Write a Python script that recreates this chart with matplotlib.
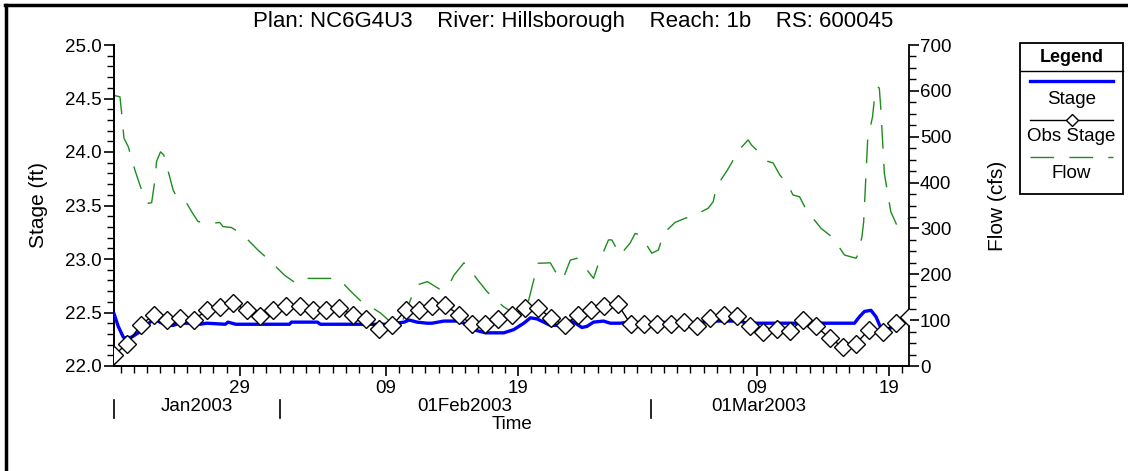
import datetime as dt

import matplotlib
matplotlib.use('Agg')
import matplotlib.pyplot as plt
import matplotlib.dates as mdates
import matplotlib.transforms as mtransforms
from matplotlib.lines import Line2D
from matplotlib.ticker import MultipleLocator, FuncFormatter

plt.rcParams['font.family'] = ['Liberation Sans', 'DejaVu Sans']

start = dt.datetime(2003, 1, 19, 12)

# observed stage, one reading per day from the start time
obs_stage = [22.10, 22.21, 22.38, 22.48, 22.43, 22.45, 22.43, 22.52, 22.55, 22.59,
             22.52, 22.47, 22.52, 22.56, 22.56, 22.52, 22.52, 22.54, 22.48, 22.44,
             22.35, 22.38, 22.52, 22.52, 22.56, 22.57, 22.48, 22.39, 22.39, 22.44,
             22.48, 22.54, 22.54, 22.45, 22.38, 22.48, 22.52, 22.56, 22.58, 22.39,
             22.39, 22.39, 22.39, 22.41, 22.37, 22.45, 22.48, 22.47, 22.37, 22.32,
             22.35, 22.33, 22.43, 22.37, 22.26, 22.18, 22.21, 22.34, 22.32, 22.40,
             22.46]

# computed stage (days after start, ft)
stage_day = [0.00, 0.32, 0.70, 0.96, 1.33, 1.83, 2.33, 2.71, 3.08, 3.46, 3.97, 4.46,
             4.97, 5.47, 5.94, 6.3, 6.5, 7.0, 8.4, 8.6, 9.2, 13.24, 13.39, 15.35,
             15.58, 20.62, 21.90, 22.27, 22.87, 23.63, 24.0, 24.91, 25.88, 26.41,
             26.92, 27.41, 28.04, 29.42, 30.17, 30.93, 31.43, 31.93, 32.43, 32.93,
             33.43, 33.94, 34.31, 34.69, 35.31, 35.69, 36.19, 36.94, 37.45, 38.20,
             38.83, 39.45, 40.71, 41.21, 42.46, 43.47, 44.47, 45.22, 47.23, 47.73,
             55.51, 55.88, 56.26, 56.64, 57.13, 57.51, 57.89, 58.14, 58.52, 59.01,
             59.39, 59.82, 60.0]
stage_ft = [22.49, 22.37, 22.27, 22.26, 22.27, 22.31, 22.35, 22.41, 22.44, 22.41, 22.38,
            22.38, 22.40, 22.40, 22.40, 22.41, 22.39, 22.40, 22.39, 22.41, 22.39, 22.39,
            22.41, 22.41, 22.39, 22.39, 22.41, 22.43, 22.41, 22.40, 22.40, 22.42, 22.42,
            22.40, 22.35, 22.33, 22.31, 22.31, 22.34, 22.40, 22.45, 22.44, 22.41, 22.38,
            22.38, 22.40, 22.42, 22.41, 22.36, 22.37, 22.41, 22.42, 22.40, 22.40, 22.41,
            22.40, 22.40, 22.41, 22.40, 22.40, 22.41, 22.42, 22.42, 22.40, 22.40, 22.40,
            22.46, 22.51, 22.52, 22.46, 22.35, 22.34, 22.35, 22.38, 22.40, 22.42, 22.43]

# flow (days after start, cfs)
flow_day = [0.00, 0.45, 0.58, 0.75, 1.08, 1.58, 2.08, 2.58, 2.84, 3.09, 3.21, 3.51,
            3.76, 4.16, 4.46, 4.72, 5.47, 5.85, 6.34, 7.35, 7.98, 8.23, 8.86, 9.73,
            10.86, 11.74, 12.87, 13.75, 14.50, 15.50, 16.50, 17.01, 17.76, 18.76,
            19.39, 20.14, 21.14, 21.52, 21.77, 22.02, 22.52, 22.90, 23.65, 24.66,
            25.28, 25.66, 26.41, 26.92, 27.41, 28.16, 28.80, 29.42, 30.42, 31.05,
            31.30, 31.55, 32.00, 32.93, 33.31, 33.86, 34.44, 34.94, 35.31, 36.19,
            36.57, 36.94, 37.32, 37.57, 38.20, 38.95, 39.33, 39.71, 39.96, 40.59,
            41.09, 41.47, 42.34, 43.09, 43.84, 44.84, 45.22, 45.47, 46.22, 46.60,
            46.98, 47.86, 48.11, 48.36, 48.74, 49.36, 49.74, 50.24, 50.87, 51.24,
            51.74, 52.37, 52.87, 53.37, 54.25, 55.13, 56.00, 56.13, 56.45, 56.58,
            56.88, 57.25, 57.38, 57.63, 57.76, 57.88, 58.14, 58.63, 59.13, 59.63,
            60.0]
flow_cfs = [590, 587, 551, 497, 478, 427, 384, 355, 356, 406, 446, 467,
            460, 417, 384, 369, 356, 337, 315, 311, 313, 304, 302, 286,
            253, 230, 198, 180, 191, 191, 191, 189, 166, 138,
            129, 115, 89, 87, 97, 118, 155, 177, 184, 166,
            177, 198, 225, 209, 189, 162, 144, 129, 111, 122,
            144, 173, 224, 225, 206, 188, 231, 235, 224, 191,
            224, 249, 275, 275, 242, 268, 289, 286, 275, 246,
            253, 289, 313, 322, 329, 344, 358, 391, 424, 442,
            465, 493, 482, 475, 464, 446, 443, 417, 395, 373,
            369, 334, 318, 300, 280, 242, 235, 242, 282, 315,
            493, 544, 580, 609, 606, 558, 420, 336, 304, 318,
            322]

month_starts = [start, dt.datetime(2003, 2, 1), dt.datetime(2003, 3, 1)]
month_labels = ['Jan2003', '01Feb2003', '01Mar2003']
month_label_pos = [dt.datetime(2003, 1, 25, 18), dt.datetime(2003, 2, 15), dt.datetime(2003, 3, 9, 3)]


def to_dates(days):
    return [start + dt.timedelta(days=d) for d in days]


W, H = 1128, 471
fig = plt.figure(figsize=(W / 100, H / 100), dpi=100)
ax = fig.add_axes([114 / W, 1 - 366 / H, 795 / W, 321 / H])
ax2 = ax.twinx()

fs = 13.5
flow_dash = (17, 11)
end = start + dt.timedelta(days=60)

ax.plot(to_dates(stage_day), stage_ft, color='#0000ff', lw=2.4, zorder=3)
obs_t = to_dates(range(len(obs_stage)))
ax.plot(obs_t, obs_stage, color='black', lw=1.0, marker='D', ms=8.8,
        mfc='white', mec='black', mew=1.0, zorder=4)
ax2.plot(to_dates(flow_day), flow_cfs, color='#1e8c1e', lw=1.0,
         dashes=flow_dash, zorder=2)

ax.set_zorder(ax2.get_zorder() + 1)
ax.patch.set_visible(False)

ax.set_xlim(start, end)
ax.set_ylim(22.0, 25.0)
ax2.set_ylim(0, 700)

for a in (ax, ax2):
    a.spines['top'].set_visible(False)
    for s in a.spines.values():
        s.set_linewidth(1.3)
ax.spines['right'].set_visible(False)

ax.yaxis.set_major_locator(MultipleLocator(0.5))
ax.yaxis.set_minor_locator(MultipleLocator(0.1))
ax.yaxis.set_major_formatter(FuncFormatter(lambda v, p: f'{v:.1f}'))
ax2.yaxis.set_major_locator(MultipleLocator(100))
ax2.yaxis.set_minor_locator(MultipleLocator(25))

ax.xaxis.set_major_locator(mdates.DayLocator(bymonthday=[9, 19, 29]))
ax.xaxis.set_minor_locator(mdates.DayLocator())
ax.xaxis.set_major_formatter(mdates.DateFormatter('%d'))

ax.tick_params(axis='both', which='major', direction='out', length=7, width=1.2,
               labelsize=fs, pad=2)
ax.tick_params(axis='both', which='minor', direction='out', length=5, width=1.0)
ax.tick_params(axis='x', which='major', pad=3)
ax2.tick_params(axis='y', which='major', direction='out', length=7, width=1.2,
                labelsize=fs, pad=1)
ax2.tick_params(axis='y', which='minor', direction='out', length=5, width=1.0)

ax.set_ylabel('Stage (ft)', fontsize=15, labelpad=12)
ax2.set_ylabel('Flow (cfs)', fontsize=15, labelpad=26)

# month row under the day labels
trans = mtransforms.blended_transform_factory(ax.transData, ax.transAxes)
for m in month_starts:
    ax.plot([m, m], [-0.106, -0.162], color='black', lw=1.2, transform=trans,
            clip_on=False)
for pos, lab in zip(month_label_pos, month_labels):
    ax.text(pos, -0.125, lab, transform=trans, ha='center', va='center', fontsize=fs)
ax.text(0.5, -0.183, 'Time', transform=ax.transAxes, ha='center', va='center',
        fontsize=fs)

fig.text(573 / W, 1 - 22 / H,
         'Plan: NC6G4U3    River: Hillsborough    Reach: 1b    RS: 600045',
         ha='center', va='center', fontsize=16)

# outer frame (top and left edges)
fig.add_artist(Line2D([6 / W, 6 / W], [0, 1 - 5 / H], color='black', lw=2.5,
                      transform=fig.transFigure))
fig.add_artist(Line2D([5 / W, 1], [1 - 5 / H, 1 - 5 / H], color='black', lw=2.5,
                      transform=fig.transFigure))


def fx(x):
    return x / W


def fy(y):
    return 1 - y / H


# legend box
box = plt.Rectangle((fx(1020), fy(194)), fx(1123) - fx(1020), fy(43) - fy(194),
                    transform=fig.transFigure, fill=False, lw=1.3, ec='black')
fig.add_artist(box)
fig.add_artist(Line2D([fx(1020), fx(1123)], [fy(70.5), fy(70.5)], color='black',
                      lw=1.0, transform=fig.transFigure))
fig.text(fx(1071.5), fy(57), 'Legend', ha='center', va='center', fontsize=fs - 0.5,
         fontweight='bold')
fig.add_artist(Line2D([fx(1030), fx(1113)], [fy(81), fy(81)], color='#0000ff', lw=2.4,
                      transform=fig.transFigure))
fig.text(fx(1071.5), fy(100), 'Stage', ha='center', va='center', fontsize=fs)
fig.add_artist(Line2D([fx(1030), fx(1113)], [fy(120), fy(120)], color='black', lw=1.0,
                      transform=fig.transFigure))
fig.add_artist(Line2D([fx(1071.5)], [fy(120)], color='black', marker='D', ms=6,
                      mfc='white', mec='black', mew=1.0, transform=fig.transFigure))
fig.text(fx(1071.5), fy(137), 'Obs Stage', ha='center', va='center', fontsize=fs)
fig.add_artist(Line2D([fx(1030), fx(1113)], [fy(156.5), fy(156.5)], color='#1e8c1e',
                      lw=1.0, dashes=flow_dash, transform=fig.transFigure))
fig.text(fx(1071.5), fy(174), 'Flow', ha='center', va='center', fontsize=fs)

fig.savefig('out.png', dpi=100)
